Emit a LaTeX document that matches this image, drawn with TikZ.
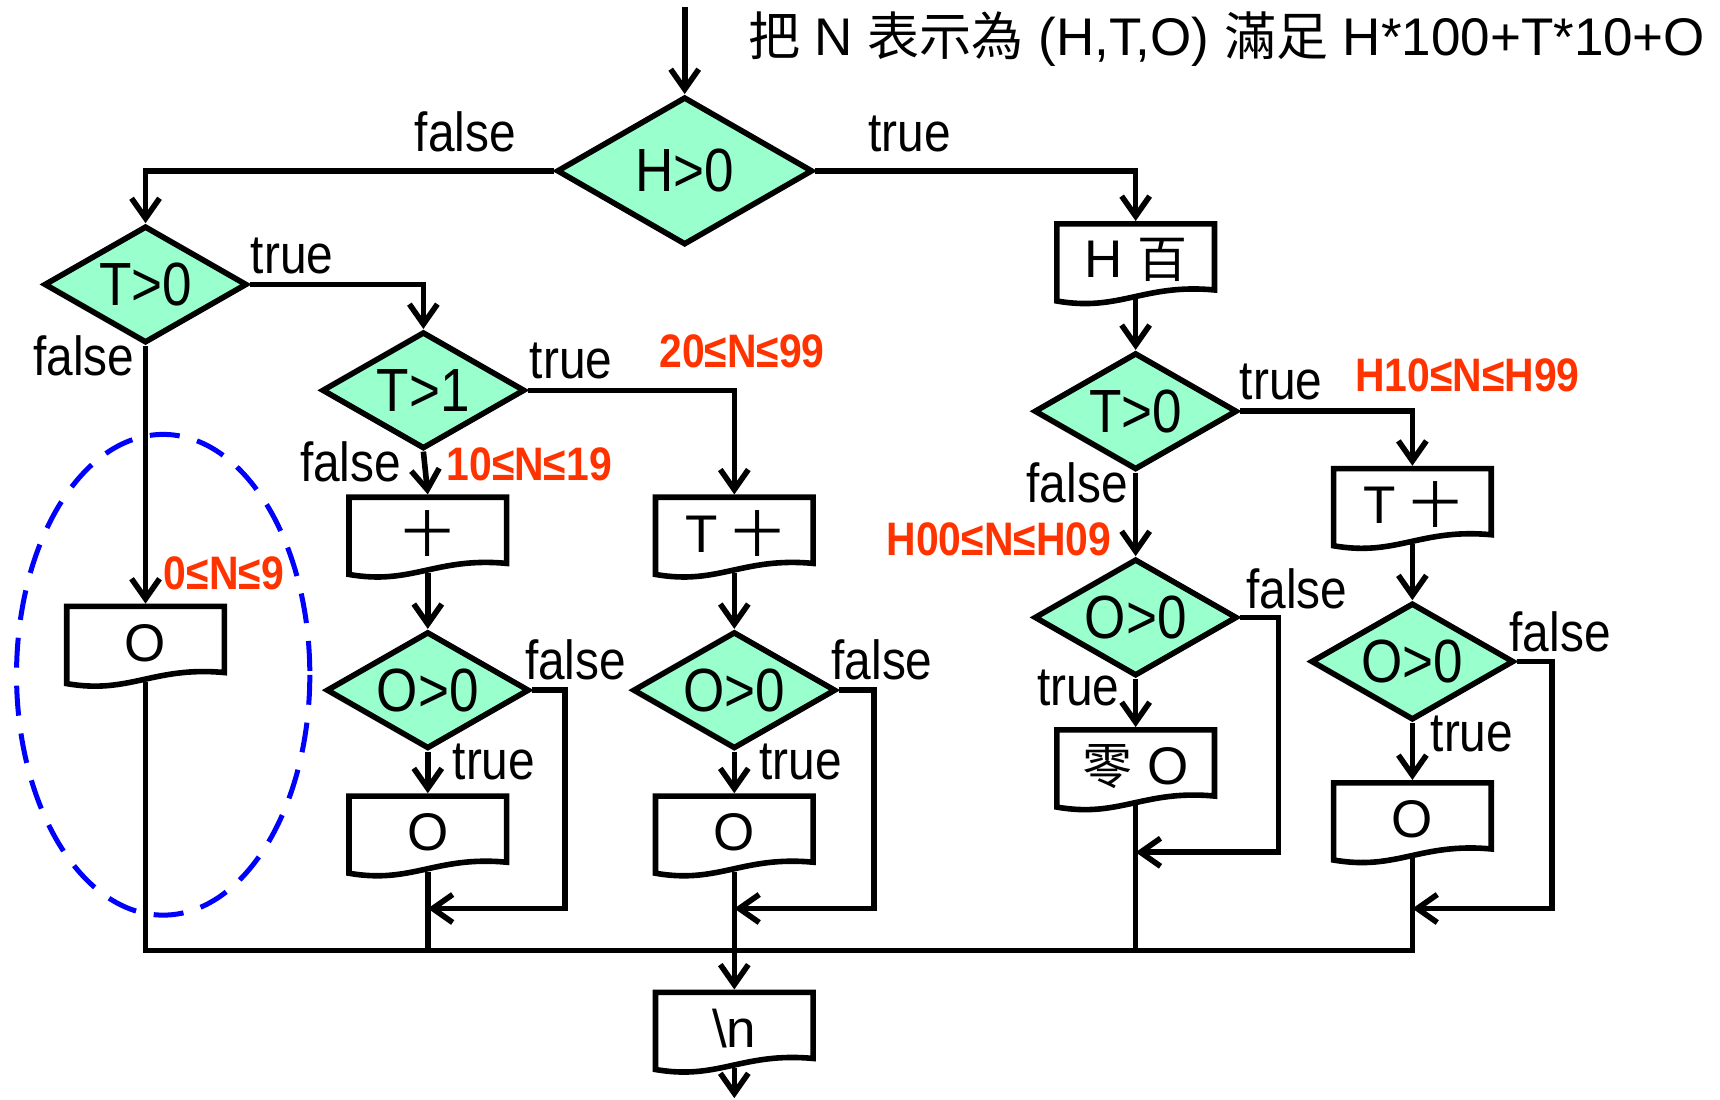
\documentclass[tikz,border=0pt]{standalone}
\usepackage{fontspec}
\setmainfont{Liberation Sans}
\newfontfamily\condfont{Liberation Sans}[FakeStretch=0.87]
\newfontfamily\redfont{Liberation Sans Bold}[FakeStretch=0.87]
\newfontfamily\cjk{Noto Sans CJK TC}
\usetikzlibrary{shapes.geometric,arrows.meta}
\definecolor{mint}{RGB}{153,255,204}
\definecolor{redlab}{RGB}{255,51,0}
\definecolor{ellblue}{RGB}{0,0,255}
\tikzset{
 arr/.style={-{Straight Barb[length=20pt,width=28pt]}},
 dec/.style={shape=diamond, draw, fill=mint, inner sep=0pt, aspect=1.74,
   minimum width=203pt, minimum height=117pt, font=\condfont\fontsize{61}{70}\selectfont},
 bigdec/.style={dec, minimum width=256pt, minimum height=148pt},
 docbox/.style={rectangle, inner sep=0pt, minimum width=157.7pt, minimum height=72.8pt,
   font=\fontsize{53}{60}\selectfont},
 lab/.style={anchor=base, inner sep=0pt, font=\condfont\fontsize{55}{60}\selectfont},
 rng/.style={anchor=base, inner sep=0pt, text=redlab, font=\redfont\fontsize{47}{52}\selectfont},
 ttl/.style={anchor=base west, inner sep=0pt, font=\fontsize{53}{60}\selectfont},
 ell/.style={draw=ellblue, line width=5pt, dash pattern=on 30pt off 18pt},
}
\newcommand\docnode[4]{%
 \node[docbox] (#1) at (#2,{#3+33}) {#4};
 \draw ({#2-71.5},{#3+70}) -- ({#2-71.5},#3) -- ({#2+71.5},#3) -- ({#2+71.5},{#3+60})
   .. controls ({#2+7.15},{#3+54}) and ({#2-14.3},{#3+80}) .. ({#2-71.5},{#3+70}) -- cycle;}
\newcommand\zh[1]{{\cjk\fontsize{50}{60}\selectfont #1}}
\begin{document}
\begin{tikzpicture}[x=1.1026pt,y=-1.1026pt,line width=5.6pt]
\useasboundingbox (0,0) rectangle (1560,997.6);
% title
\node[ttl] (title) at (676,50) {{\cjk\fontsize{52}{60}\selectfont 把} N {\cjk\fontsize{52}{60}\selectfont 表示為} (H,T,O) {\cjk\fontsize{52}{60}\selectfont 滿足} H*100+T*10+O};
% ellipse
\draw[ell] (148,612) ellipse [x radius=133, y radius=218];
% decisions
\node[bigdec] (h0) at (621,155) {H>0};
\node[dec] (t0) at (132,258) {T>0};
\node[dec] (t1) at (384,354) {T>1};
\node[dec] (o1) at (388,626) {O>0};
\node[dec] (o2) at (666,626) {O>0};
\node[dec] (t0r) at (1030,373) {T>0};
\node[dec] (o3) at (1030,560) {O>0};
\node[dec] (o4) at (1281,600) {O>0};
% output boxes
\docnode{bO0}{132}{550}{O}
\docnode{b10}{388}{451}{\zh{十}}
\docnode{bT10}{666}{451}{T \zh{十}}
\docnode{bO1}{388}{722}{O}
\docnode{bO2}{666}{722}{O}
\docnode{bH}{1030}{203}{H \zh{百}}
\docnode{bT10r}{1281}{425}{T \zh{十}}
\docnode{bZ}{1030}{662}{\zh{零} O}
\docnode{bO4}{1281}{710}{O}
\docnode{bN}{666}{900}{\textbackslash n}
% coordinates
\coordinate (start) at (621,6);
\coordinate (m1) at (388,824);
\coordinate (m2) at (666,824);
\coordinate (m3) at (1030,773);
\coordinate (m4) at (1281,824);
\coordinate (bL) at (132,862);
\coordinate (bR) at (1281,862);
\coordinate (fin) at (666,996);
% connectors
\draw[arr] (start) -- (h0.north);
\draw[arr] (h0.west) -| (t0.north);
\draw[arr] (h0.east) -| (bH.north);
\draw[arr] (t0.east) -| (t1.north);
\draw[arr] (t0.south) -- (bO0.north);
\draw[arr] (t1.east) -| (bT10.north);
\draw[arr] (t1.south) -- (b10.north);
\draw[arr] (b10.south) -- (o1.north);
\draw[arr] (bT10.south) -- (o2.north);
\draw[arr] (o1.south) -- (bO1.north);
\draw[arr] (o2.south) -- (bO2.north);
\draw[arr] (o1.east) -- ++(30,0) |- (m1);
\draw[arr] (o2.east) -- ++(32,0) |- (m2);
\draw[arr] (bH.south) -- (t0r.north);
\draw[arr] (t0r.east) -| (bT10r.north);
\draw[arr] (t0r.south) -- (o3.north);
\draw[arr] (bT10r.south) -- (o4.north);
\draw[arr] (o3.south) -- (bZ.north);
\draw[arr] (o4.south) -- (bO4.north);
\draw[arr] (o3.east) -- ++(35,0) |- (m3);
\draw[arr] (o4.east) -- ++(32,0) |- (m4);
\draw (bO0.south) -- (bL) -- (bR) -- (bO4.south);
\draw (bO1.south) -- (bO1.south |- bL);
\draw (bZ.south) -- (bZ.south |- bL);
\draw[arr] (bO2.south) -- (bN.north);
\draw[arr] (bN.south) -- (fin);
% labels
\node[lab] (l1) at (422,137) {false};
\node[lab] (l2) at (825,137) {true};
\node[lab] (l3) at (265,248) {true};
\node[lab] (l4) at (76,341) {false};
\node[lab] (l5) at (518,343) {true};
\node[lab] (l6) at (318,437) {false};
\node[lab] (l7) at (522,616) {false};
\node[lab] (l8) at (448,707) {true};
\node[lab] (l9) at (800,616) {false};
\node[lab] (l10) at (726,707) {true};
\node[lab] (l11) at (1162,362) {true};
\node[lab] (l12) at (977,456) {false};
\node[lab] (l13) at (1176,552) {false};
\node[lab] (l14) at (978,640) {true};
\node[lab] (l15) at (1415,591) {false};
\node[lab] (l16) at (1335,682) {true};
% ranges
\node[rng] (r1) at (203,535) {0≤N≤9};
\node[rng] (r2) at (480,436) {10≤N≤19};
\node[rng] (r3) at (673,333) {20≤N≤99};
\node[rng] (r4) at (1331,355) {H10≤N≤H99};
\node[rng] (r5) at (906,504) {H00≤N≤H09};
\end{tikzpicture}
\end{document}
